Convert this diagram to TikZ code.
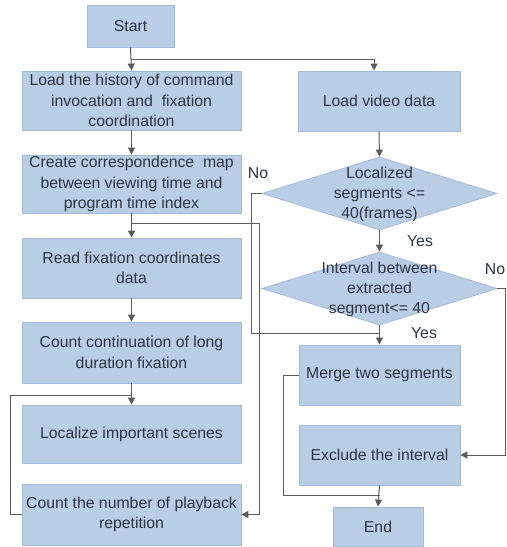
\documentclass[tikz,border=0pt]{standalone}
\usepackage{fontspec}
\setmainfont{Liberation Sans}
\usetikzlibrary{shapes.geometric,arrows.meta}
\definecolor{boxfill}{HTML}{B9CDE5}
\definecolor{boxline}{HTML}{A3BBDA}
\definecolor{txtc}{HTML}{2C3644}
\definecolor{lnc}{HTML}{5A5A5A}
\tikzset{
  box/.style={draw=boxline, fill=boxfill, line width=0.8bp, text=txtc, align=center, inner sep=0pt,
    font=\fontsize{15.8bp}{20.5bp}\selectfont},
  dia/.style={diamond, draw=boxline, fill=boxfill, line width=0.8bp, inner sep=0pt, aspect=3.2},
  dtext/.style={text=txtc, align=center, inner sep=0pt, font=\fontsize{15.8bp}{20bp}\selectfont},
  conn/.style={draw=lnc, line width=1bp},
  arr/.style={conn, -{Triangle[width=7bp,length=7bp]}},
  lbl/.style={text=txtc, inner sep=0pt, font=\fontsize{15.8bp}{18bp}\selectfont}
}
\begin{document}
\begin{tikzpicture}[x=1bp,y=-1bp]
\useasboundingbox (0,0) rectangle (507,547);
\fill[white] (0,0) rectangle (507,547);
% left column
\node[box, minimum width=87bp, minimum height=42bp] (start) at (130.5,26) {Start};
\node[box, minimum width=219bp, minimum height=59bp] (load1) at (131.5,100.5) {Load the history of command\\invocation and \ fixation\\coordination};
\node[box, minimum width=219bp, minimum height=58bp] (create) at (131.5,184) {Create correspondence \ map\\between viewing time and\\program time index};
\node[box, minimum width=219bp, minimum height=60bp] (read) at (131.5,268) {Read fixation coordinates\\data};
\node[box, minimum width=219bp, minimum height=61bp] (cont) at (131.5,352.5) {Count continuation of long\\duration fixation};
\node[box, minimum width=219bp, minimum height=58bp] (loc) at (131.5,434) {Localize important scenes};
\node[box, minimum width=219bp, minimum height=61bp] (count) at (131.5,514.5) {Count the number of playback\\repetition};
% right column
\node[box, minimum width=162bp, minimum height=60bp] (video) at (379,101) {Load video data};
\node[dia, minimum width=235bp, minimum height=73bp] (d1) at (379.5,193.5) {};
\node[dtext] (d1t) at (379.5,194) {Localized\\segments <=\\40(frames)};
\node[dia, minimum width=235bp, minimum height=73bp] (d2) at (379.5,288.5) {};
\node[dtext] (d2t) at (379.5,289) {Interval between\\extracted\\segment<= 40};
\node[box, minimum width=161bp, minimum height=60bp] (merge) at (379.5,375) {Merge two segments};
\node[box, minimum width=161bp, minimum height=60bp] (excl) at (379.5,455) {Exclude the interval};
\node[box, minimum width=90bp, minimum height=39bp] (end) at (378,526.5) {End};
% junction points
\coordinate (j1) at (131,60);
\coordinate (j2) at (131,223);
\coordinate (j3) at (131,395);
\coordinate (j4) at (379.5,333);
\coordinate (j5) at (379.5,495);
% connectors
\draw[arr] (start.south) -- (load1.north);
\draw[arr] (j1) -| ([xshift=-5bp]video.north);
\draw[arr] (load1.south) -- (create.north);
\draw[arr] (create.south) -- (read.north);
\draw[arr] (j2) -- (259,223) |- (count.east);
\draw[arr] (read.south) -- (cont.north);
\draw[arr] (cont.south) -- (loc.north);
\draw[conn] (j3) -- (10,395) |- (count.west);
\draw[arr] (video.south) -- (d1.north);
\draw[arr] (d1.south) -- (d2.north);
\draw[conn] (d1.west) -- (251,193.5) |- (j4);
\draw[arr] (d2.south) -- (merge.north);
\draw[arr] (d2.east) -- (505,288.5) |- (excl.east);
\draw[conn] (merge.west) -- (283,375) |- (j5);
\draw[arr] (excl.south) -- (end.north);
% labels
\node[lbl] (no1) at (258,173) {No};
\node[lbl] (no2) at (495,269) {No};
\node[lbl] (yes1) at (420,241) {Yes};
\node[lbl] (yes2) at (424,333) {Yes};
\end{tikzpicture}
\end{document}
